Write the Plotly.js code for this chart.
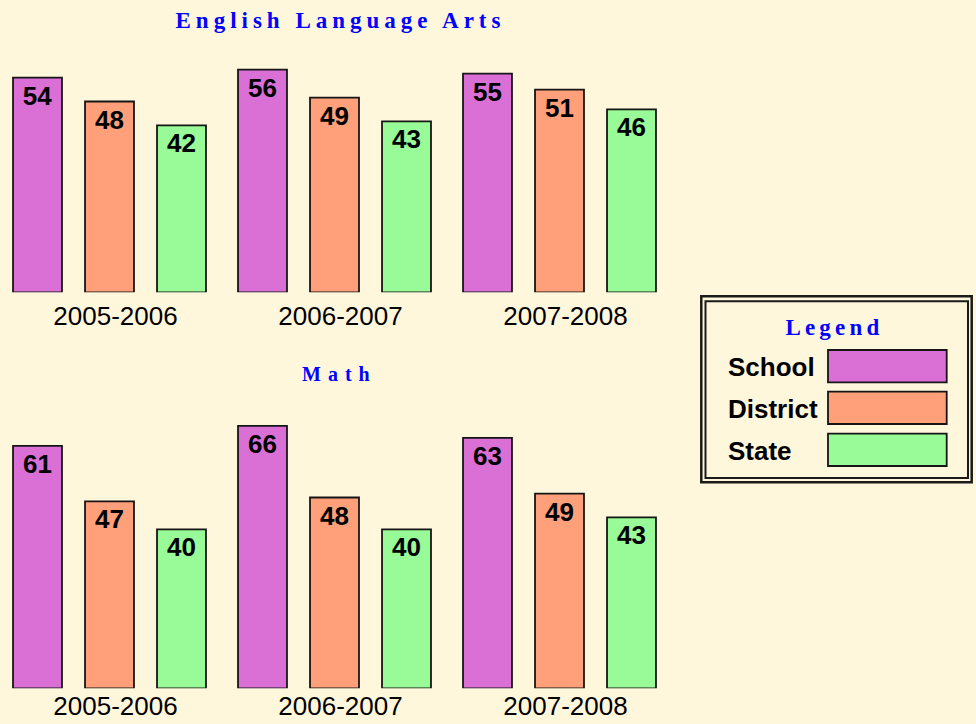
<!DOCTYPE html>
<html>
<head>
<meta charset="utf-8">
<script src="https://cdn.plot.ly/plotly-3.0.1.min.js"></script>
<style>html,body{margin:0;padding:0;background:#FFF7DC;}</style>
</head>
<body>
<div id="chart" style="width:976px;height:724px;"></div>
<script>
// ---- data ----
const years = ['2005-2006', '2006-2007', '2007-2008'];
const seriesNames = ['School', 'District', 'State'];
const seriesColors = ['#DA70D6', '#FFA07A', '#98FB98'];
const elaSchool = [54, 56, 55];
const elaDistrict = [48, 49, 51];
const elaState = [42, 43, 46];
const mathSchool = [61, 66, 63];
const mathDistrict = [47, 48, 49];
const mathState = [40, 40, 43];
const chartTitles = ['English Language Arts', 'Math'];
const legendTitle = 'Legend';

// ---- helpers ----
const W = 976, H = 724;
const px = v => v / W;
const py = v => 1 - v / H;
const lblFont = {family: 'Liberation Sans, Arial, sans-serif', size: 26, color: '#000'};

function barTrace(vals, i, xa, ya) {
  return {
    type: 'bar', x: years, y: vals, name: seriesNames[i],
    xaxis: xa, yaxis: ya,
    marker: {color: seriesColors[i], line: {color: '#151515', width: 1.8}},
    texttemplate: '<b>%{y}</b>', textposition: 'inside', insidetextanchor: 'end',
    textangle: 0, constraintext: 'none',
    insidetextfont: {family: 'Liberation Sans, Arial, sans-serif', size: 26, color: '#000'},
    hoverinfo: 'skip', showlegend: false, cliponaxis: false
  };
}

const traces = [
  barTrace(elaSchool, 0, 'x', 'y'),
  barTrace(elaDistrict, 1, 'x', 'y'),
  barTrace(elaState, 2, 'x', 'y'),
  barTrace(mathSchool, 0, 'x2', 'y2'),
  barTrace(mathDistrict, 1, 'x2', 'y2'),
  barTrace(mathState, 2, 'x2', 'y2')
];

const xr = [-109.5 / 225, 2.5];
const xDomain = [0, 672 / W];
const xCommon = {
  type: 'category', range: xr, domain: xDomain, showgrid: false, zeroline: false,
  showline: false, ticks: '', automargin: false, fixedrange: true,
  tickfont: {family: 'Liberation Sans, Arial, sans-serif', size: 26, color: '#000'},
  ticklabelshift: 6
};
const yCommon = {range: [0, 70], visible: false, showgrid: false, zeroline: false, fixedrange: true};

const shapes = [];
// legend double border
shapes.push({type: 'rect', xref: 'paper', yref: 'paper', x0: px(701.3), x1: px(971.7), y0: py(296.3), y1: py(482.3), line: {color: '#1a1a1a', width: 2.5}, fillcolor: 'rgba(0,0,0,0)'});
shapes.push({type: 'rect', xref: 'paper', yref: 'paper', x0: px(705.5), x1: px(968), y0: py(301.2), y1: py(478), line: {color: '#1a1a1a', width: 2}, fillcolor: 'rgba(0,0,0,0)'});

const annotations = [];
// chart titles
const titleFont = {family: 'Liberation Serif, Times New Roman, serif', color: '#0000FF', weight: 'bold'};
annotations.push({xref: 'paper', yref: 'paper', x: px(340), y: py(20), text: '<b>' + chartTitles[0] + '</b>', showarrow: false, xanchor: 'center', yanchor: 'middle', font: Object.assign({size: 23}, titleFont)});
annotations.push({xref: 'paper', yref: 'paper', x: px(339), y: py(374), text: '<b>' + chartTitles[1] + '</b>', showarrow: false, xanchor: 'center', yanchor: 'middle', font: Object.assign({size: 20}, titleFont)});
annotations.push({xref: 'paper', yref: 'paper', x: px(834), y: py(327), text: '<b>' + legendTitle + '</b>', showarrow: false, xanchor: 'center', yanchor: 'middle', font: Object.assign({size: 23}, titleFont)});

// legend entries
const swTop = [350, 391.7, 433.7];
seriesNames.forEach((n, i) => {
  shapes.push({type: 'rect', xref: 'paper', yref: 'paper', x0: px(828), x1: px(946.7), y0: py(swTop[i]), y1: py(swTop[i] + 32.3), line: {color: '#151515', width: 1.8}, fillcolor: seriesColors[i]});
  annotations.push({xref: 'paper', yref: 'paper', x: px(726), y: py(swTop[i] + 17), text: '<b>' + n + '</b>', showarrow: false, xanchor: 'left', yanchor: 'middle', font: lblFont});
});

const layout = {
  width: W, height: H,
  margin: {l: 0, r: 0, t: 0, b: 0},
  paper_bgcolor: '#FFF7DC', plot_bgcolor: 'rgba(0,0,0,0)',
  barmode: 'group', bargap: 0.04, bargroupgap: 0.32,
  showlegend: false,
  xaxis: Object.assign({anchor: 'y', ticklabelstandoff: 6}, xCommon),
  yaxis: Object.assign({anchor: 'x', domain: [(H - 292.3) / H, (H - 292.3 + 70 * 3.975) / H]}, yCommon),
  xaxis2: Object.assign({anchor: 'y2', ticklabelstandoff: 0}, xCommon),
  yaxis2: Object.assign({anchor: 'x2', domain: [(H - 688.3) / H, (H - 688.3 + 70 * 3.975) / H]}, yCommon),
  shapes: shapes, annotations: annotations
};

const spacing = {};
spacing[chartTitles[0]] = '5px';
spacing[chartTitles[1]] = '7px';
spacing[legendTitle] = '4.2px';

Plotly.newPlot('chart', traces, layout, {staticPlot: true, displayModeBar: false}).then(() => {
  document.querySelectorAll('text.annotation-text').forEach(t => {
    const s = spacing[t.textContent];
    if (s) t.style.letterSpacing = s;
  });
});
</script>
</body>
</html>
